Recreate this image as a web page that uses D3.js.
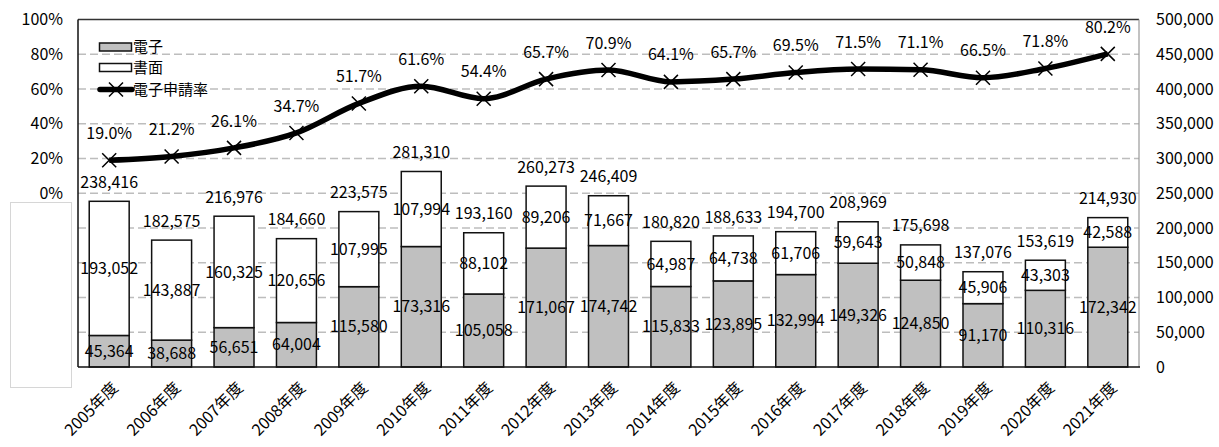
<!DOCTYPE html>
<html><head><meta charset="utf-8">
<script src="https://cdn.jsdelivr.net/npm/d3@7"></script>
<style>
html,body{margin:0;padding:0;background:#fff;}
svg text{font-family:"Noto Sans CJK JP","Noto Sans",sans-serif;fill:#000;}
</style></head>
<body>
<svg id="c" width="1219" height="447"></svg>
<script>
const categories = ["2005年度","2006年度","2007年度","2008年度","2009年度","2010年度","2011年度","2012年度","2013年度","2014年度","2015年度","2016年度","2017年度","2018年度","2019年度","2020年度","2021年度"];
const electronic = [45364,38688,56651,64004,115580,173316,105058,171067,174742,115833,123895,132994,149326,124850,91170,110316,172342];
const paper = [193052,143887,160325,120656,107995,107994,88102,89206,71667,64987,64738,61706,59643,50848,45906,43303,42588];
const totals = [238416,182575,216976,184660,223575,281310,193160,260273,246409,180820,188633,194700,208969,175698,137076,153619,214930];
const rate = [19.0,21.2,26.1,34.7,51.7,61.6,54.4,65.7,70.9,64.1,65.7,69.5,71.5,71.1,66.5,71.8,80.2];
const rightTicks = [0,50000,100000,150000,200000,250000,300000,350000,400000,450000,500000];
const leftTicks = [0,20,40,60,80,100];
const seriesNames = ["電子","書面","電子申請率"];

const svg = d3.select("#c");
const X0 = 78, X1 = 1139, YT = 19.5, YB = 367;
const x = d3.scaleBand().domain(categories).range([X0, X1]).paddingInner(0.36).paddingOuter(0.18);
const y = d3.scaleLinear().domain([0, 500000]).range([YB, YT]);
const yp = d3.scaleLinear().domain([-100, 100]).range([YB, YT]);
const fmt = d3.format(",");
const cx = c => x(c) + x.bandwidth()/2;

// gridlines
svg.append("g").selectAll("line").data(rightTicks.filter(t => t > 0 && t < 500000)).join("line")
  .attr("x1", X0).attr("x2", X1).attr("y1", d => y(d)).attr("y2", d => y(d))
  .attr("stroke", "#bdbdbd").attr("stroke-width", 1.6).attr("stroke-dasharray", "8,4");

// white box covering lower left axis
svg.append("rect").attr("x", 10.5).attr("y", 202.5).attr("width", 61).attr("height", 185)
  .attr("fill", "#fff").attr("stroke", "#d6d6d6").attr("stroke-width", 1);

// bars
const g = svg.append("g");
categories.forEach((c, i) => {
  g.append("rect").attr("x", x(c)).attr("width", x.bandwidth())
    .attr("y", y(electronic[i])).attr("height", y(0) - y(electronic[i]))
    .attr("fill", "#c0c0c0").attr("stroke", "#111").attr("stroke-width", 1.5);
  g.append("rect").attr("x", x(c)).attr("width", x.bandwidth())
    .attr("y", y(totals[i])).attr("height", y(electronic[i]) - y(totals[i]))
    .attr("fill", "#fff").attr("stroke", "#111").attr("stroke-width", 1.5);
});

// frame
svg.append("line").attr("x1", X0).attr("x2", X1).attr("y1", YT).attr("y2", YT).attr("stroke", "#333").attr("stroke-width", 1.5);
svg.append("line").attr("x1", X1).attr("x2", X1).attr("y1", YT).attr("y2", YB).attr("stroke", "#999").attr("stroke-width", 1.2);
svg.append("line").attr("x1", X0).attr("x2", X0).attr("y1", YT).attr("y2", YB).attr("stroke", "#111").attr("stroke-width", 1.5);
svg.append("line").attr("x1", X0).attr("x2", X1 + 1).attr("y1", YB).attr("y2", YB).attr("stroke", "#111").attr("stroke-width", 1.5);

// axes labels
svg.append("g").selectAll("text").data(leftTicks).join("text")
  .attr("x", 63).attr("y", d => yp(d)).attr("dy", "0.35em").attr("text-anchor", "end")
  .attr("font-size", 16).text(d => d + "%");
svg.append("g").selectAll("text").data(rightTicks).join("text")
  .attr("x", 1156).attr("y", d => y(d)).attr("dy", "0.35em").attr("text-anchor", "start")
  .attr("font-size", 16).text(d => fmt(d));
svg.append("g").selectAll("text").data(categories).join("text")
  .attr("transform", d => `translate(${cx(d) + 6},${385}) rotate(-45)`)
  .attr("text-anchor", "end").attr("dy", "0.35em").attr("font-size", 16).text(d => d);

// line
const pts = categories.map((c, i) => [cx(c), yp(rate[i])]);
svg.append("path").attr("d", d3.line().curve(d3.curveMonotoneX)(pts))
  .attr("fill", "none").attr("stroke", "#000").attr("stroke-width", 5.5).attr("stroke-linejoin", "round");
const m = 7;
svg.append("g").selectAll("path").data(pts).join("path")
  .attr("d", p => `M${p[0]-m},${p[1]-m}L${p[0]+m},${p[1]+m}M${p[0]-m},${p[1]+m}L${p[0]+m},${p[1]-m}`)
  .attr("stroke", "#000").attr("stroke-width", 1.5);

// labels
const lab = svg.append("g").attr("font-size", 16).attr("text-anchor", "middle");
categories.forEach((c, i) => {
  lab.append("text").attr("x", cx(c)).attr("y", (y(0) + y(electronic[i])) / 2).attr("dy", "0.35em").text(fmt(electronic[i]));
  lab.append("text").attr("x", cx(c)).attr("y", (y(electronic[i]) + y(totals[i])) / 2).attr("dy", "0.35em").text(fmt(paper[i]));
  lab.append("text").attr("x", cx(c)).attr("y", y(totals[i]) - 19).attr("dy", "0.35em").text(fmt(totals[i]));
  lab.append("text").attr("x", cx(c)).attr("y", yp(rate[i]) - 27).attr("dy", "0.35em").text(rate[i].toFixed(1) + "%");
});

// legend
const lg = svg.append("g");
lg.append("rect").attr("x", 99.5).attr("y", 43).attr("width", 32).attr("height", 8).attr("fill", "#c0c0c0").attr("stroke", "#111").attr("stroke-width", 1.5);
lg.append("rect").attr("x", 99.5).attr("y", 63.5).attr("width", 32).attr("height", 8).attr("fill", "#fff").attr("stroke", "#111").attr("stroke-width", 1.5);
lg.append("line").attr("x1", 100).attr("x2", 132).attr("y1", 89.5).attr("y2", 89.5).attr("stroke", "#000").attr("stroke-width", 5.5).attr("stroke-linecap", "round");
lg.append("path").attr("d", `M${116-m},${89.5-m}L${116+m},${89.5+m}M${116-m},${89.5+m}L${116+m},${89.5-m}`).attr("stroke", "#000").attr("stroke-width", 1.5);
lg.selectAll("text").data(seriesNames).join("text")
  .attr("x", 133).attr("y", (d, i) => [47, 67.5, 89.5][i]).attr("dy", "0.35em").attr("font-size", 15).text(d => d);
</script>
</body></html>
